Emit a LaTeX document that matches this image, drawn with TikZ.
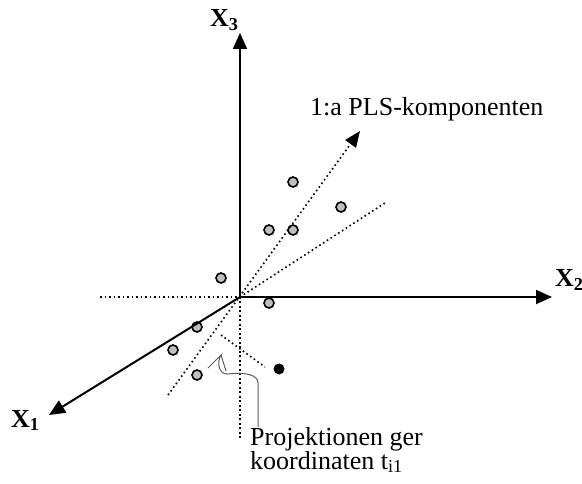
\documentclass[tikz,border=0pt]{standalone}
\usepackage{fontspec}
\setmainfont{Liberation Serif}
\usetikzlibrary{arrows.meta}
\definecolor{pointgray}{RGB}{190,190,190}
\definecolor{pengray}{RGB}{90,90,90}

\begin{document}
\begin{tikzpicture}[
        x=1pt, y=-1pt,
        axis/.style={-{Triangle[length=16pt, width=14pt]}, line width=2pt},
        dots/.style={line width=1.6pt, dash pattern=on 1.6pt off 2.9pt},
        pt/.style={circle, draw, line width=1.6pt, fill=pointgray, inner sep=0pt, minimum size=10pt},
        hit/.style={circle, fill=black, inner sep=0pt, minimum size=11pt},
        axlabel/.style={anchor=base west, inner sep=0pt, font=\fontsize{26}{26}\selectfont\bfseries},
        note/.style={inner sep=0pt, font=\fontsize{26}{24}\selectfont, align=left},
        pointer/.style={pengray, line width=1pt}
    ]
        \useasboundingbox (0,0) rectangle (582,484);

        \coordinate (O) at (240,297);
        \coordinate (X1end) at (49,415);
        \coordinate (X2end) at (552,297);
        \coordinate (X3end) at (240,33);
        \coordinate (X2neg) at (100,297);
        \coordinate (X3neg) at (240,438);
        \coordinate (PLSstart) at (168,395);
        \coordinate (PLSend) at (360,131);
        \coordinate (Lineend) at (385,203);
        \coordinate (Projstart) at (221,335);
        \coordinate (Projend) at (265,367);
        \coordinate (hook) at (221,355);
        \coordinate (hookend) at (208,368);

        \node[axlabel] (X1) at (11,427) {X\textsubscript{1}};
        \node[axlabel] (X2) at (555,287) {X\textsubscript{2}};
        \node[axlabel] (X3) at (210,27) {X\textsubscript{3}};
        \node[note, anchor=base west] (PLS) at (310,116) {1:a PLS-komponenten};
        \node[note, anchor=north west] (proj) at (250,427) {Projektionen ger\\koordinaten t\textsubscript{i1}};

        \node[pt] (p1) at (293,182) {};
        \node[pt] (p2) at (341,207) {};
        \node[pt] (p3) at (269,230) {};
        \node[pt] (p4) at (293,230) {};
        \node[pt] (p5) at (221,278) {};
        \node[pt] (p6) at (269,303) {};
        \node[pt] (p7) at (197,327) {};
        \node[pt] (p8) at (173,350) {};
        \node[pt] (p9) at (197,375) {};
        \node[hit] (obs) at (279,369) {};

        \draw[dots] (X2neg) -- (O);
        \draw[dots] (O) -- (X3neg);
        \draw[dots] (O) -- (Lineend);
        \draw[dots] (Projstart) -- (Projend);
        \draw[dots, -{Triangle[length=16pt, width=13pt]}] (PLSstart) -- (PLSend);

        \draw[axis] (O) -- (X3end);
        \draw[axis] (O) -- (X2end);
        \draw[axis] (O) -- (X1end);

        \draw[pointer] ([xshift=8pt]proj.north west) -- ++(0,-44)
            .. controls ++(0,-8) and (246,372) .. (228,374)
            .. controls (218,375) and (217,361) .. (hook) -- (hookend);
        \draw[pointer] (hook) -- (226,371);
    \end{tikzpicture}
\end{document}
